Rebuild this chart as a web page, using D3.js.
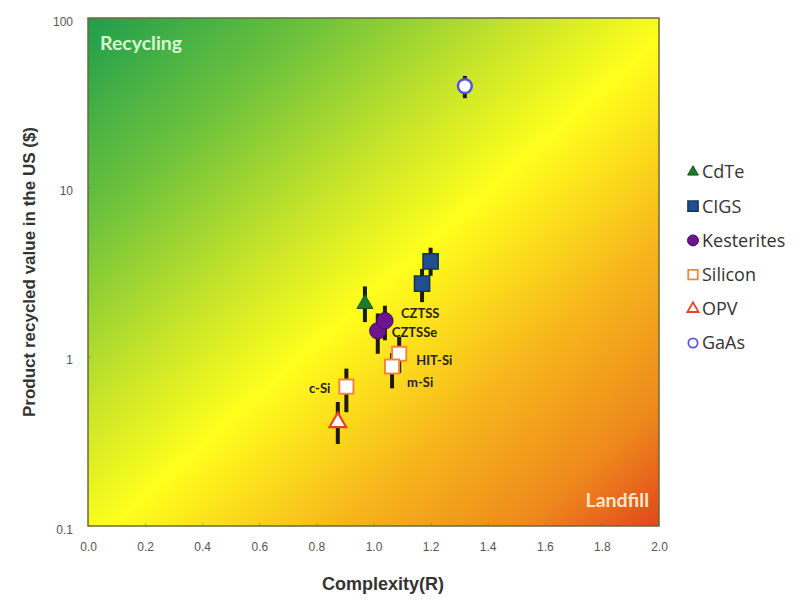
<!DOCTYPE html>
<html>
<head>
<meta charset="utf-8">
<script src="https://cdn.jsdelivr.net/npm/d3@7"></script>
<style>
  body { margin: 0; background: #fff; }
  svg { display: block; }
</style>
</head>
<body>
<svg width="808" height="606"></svg>
<script>
// Series shown in the legend
const seriesNames = ["CdTe", "CIGS", "Kesterites", "Silicon", "OPV", "GaAs"];

// One entry per plotted point
const pointSeries = ["CdTe", "CIGS", "CIGS", "Kesterites", "Kesterites", "Silicon", "Silicon", "Silicon", "OPV", "GaAs"];
const pointX      = [0.97, 1.17, 1.20, 1.015, 1.04, 1.09, 1.065, 0.905, 0.875, 1.32];
const pointY      = [2.05, 2.7, 3.65, 1.42, 1.63, 1.04, 0.875, 0.665, 0.41, 39.6];
const pointLow    = [1.6, 2.1, 3.0, 1.04, 1.25, 0.8, 0.65, 0.47, 0.305, 33.6];
const pointHigh   = [2.6, 3.3, 4.4, 1.8, 2.0, 1.31, 1.05, 0.85, 0.54, 45.5];
const pointLabel  = ["", "", "", "CZTSSe", "CZTSS", "HIT-Si", "m-Si", "c-Si", "", ""];

const xTicks = [0, 0.2, 0.4, 0.6, 0.8, 1.0, 1.2, 1.4, 1.6, 1.8, 2.0];
const yTicks = [0.1, 1, 10, 100];

// marker look per series
const markerStyle = {
    "CdTe":       { shape: d3.symbolTriangle, size: 110, fill: "#1d7a2c", stroke: "#14561f", sw: 1 },
    "CIGS":       { shape: d3.symbolSquare,   size: 230, fill: "#1f4f8f", stroke: "#123461", sw: 1.5 },
    "Kesterites": { shape: d3.symbolCircle,   size: 210, fill: "#6b168f", stroke: "#4a0a66", sw: 1 },
    "Silicon":    { shape: d3.symbolSquare,   size: 200, fill: "#ffffff", stroke: "#f0883c", sw: 2 },
    "OPV":        { shape: d3.symbolTriangle, size: 120, fill: "#ffffff", stroke: "#e8412c", sw: 2.2 },
    "GaAs":       { shape: d3.symbolCircle,   size: 150, fill: "#ffffff", stroke: "#5656dc", sw: 2.5 }
};

// label offsets in px from the point
const labelOffset = {
    "CZTSS":  { dx: 16, dy: -3, anchor: "start" },
    "CZTSSe": { dx: 14, dy: 6, anchor: "start" },
    "HIT-Si": { dx: 17, dy: 11, anchor: "start" },
    "m-Si":   { dx: 15, dy: 21, anchor: "start" },
    "c-Si":   { dx: -16, dy: 6, anchor: "end" }
};

const svg = d3.select("svg");

const plotLeft = 88, plotRight = 659, plotTop = 18, plotBottom = 526;

const x = d3.scaleLinear().domain([0, 2]).range([plotLeft, plotRight]);
const y = d3.scaleLog().domain([0.1, 100]).range([plotBottom, plotTop]);

// Background gradient: green (recycling) -> yellow -> red (landfill)
const defs = svg.append("defs");
const grad = defs.append("linearGradient")
    .attr("id", "bg")
    .attr("x1", 0).attr("y1", 0)
    .attr("x2", 1).attr("y2", 1);
[
    [0, "#1f9e4d"],
    [0.2, "#6cc23d"],
    [0.38, "#c6e42a"],
    [0.52, "#ffff1c"],
    [0.72, "#f7b61c"],
    [0.88, "#ee8a1c"],
    [1, "#e2461d"]
].forEach(s => grad.append("stop").attr("offset", s[0]).attr("stop-color", s[1]));

svg.append("rect")
    .attr("x", plotLeft).attr("y", plotTop)
    .attr("width", plotRight - plotLeft).attr("height", plotBottom - plotTop)
    .attr("fill", "url(#bg)")
    .attr("stroke", "#6b6a3c")
    .attr("stroke-width", 1.5);

// Corner captions
svg.append("text")
    .attr("x", plotLeft + 12).attr("y", plotTop + 32)
    .attr("font-family", "Lato, sans-serif")
    .attr("font-weight", "bold")
    .attr("font-size", 19.5)
    .attr("fill", "#d6f7cf")
    .text("Recycling");

svg.append("text")
    .attr("x", plotRight - 10).attr("y", plotBottom - 19)
    .attr("text-anchor", "end")
    .attr("font-family", "Lato, sans-serif")
    .attr("font-weight", "bold")
    .attr("font-size", 19.5)
    .attr("fill", "#fde6cc")
    .text("Landfill");

// Axes
const xAxis = svg.append("g")
    .attr("transform", "translate(0," + plotBottom + ")")
    .call(d3.axisBottom(x).tickValues(xTicks).tickFormat(d3.format(".1f")).tickSize(-3).tickPadding(16));
xAxis.select(".domain").remove();
xAxis.selectAll("line").attr("stroke", "#7a7440").attr("stroke-opacity", 0.5);
xAxis.selectAll("text")
    .attr("font-family", "Liberation Sans, Arial, sans-serif")
    .attr("font-size", 12)
    .attr("fill", "#555");

const yAxis = svg.append("g")
    .attr("transform", "translate(" + plotLeft + ",0)")
    .call(d3.axisLeft(y).tickValues(yTicks).tickFormat(d => d).tickSize(-3).tickPadding(15));
yAxis.select(".domain").remove();
yAxis.selectAll("line").attr("stroke", "#7a7440").attr("stroke-opacity", 0.5);
yAxis.selectAll("text")
    .attr("dy", "0.6em")
    .attr("font-family", "Liberation Sans, Arial, sans-serif")
    .attr("font-size", 12)
    .attr("fill", "#555");

// Axis titles
svg.append("text")
    .attr("x", 383).attr("y", 590)
    .attr("text-anchor", "middle")
    .attr("font-family", "Liberation Sans, Arial, sans-serif")
    .attr("font-weight", "bold")
    .attr("font-size", 18)
    .attr("fill", "#333")
    .text("Complexity(R)");

svg.append("text")
    .attr("transform", "translate(35," + 272 + ") rotate(-90)")
    .attr("text-anchor", "middle")
    .attr("font-family", "Liberation Sans, Arial, sans-serif")
    .attr("font-weight", "bold")
    .attr("font-size", 17)
    .attr("fill", "#333")
    .text("Product recycled value in the US ($)");

// Points
const points = pointX.map((v, i) => ({
    series: pointSeries[i], x: v, y: pointY[i],
    lo: pointLow[i], hi: pointHigh[i], label: pointLabel[i]
}));

svg.append("g").selectAll("line")
    .data(points)
    .enter().append("line")
    .attr("x1", d => x(d.x)).attr("x2", d => x(d.x))
    .attr("y1", d => y(d.lo)).attr("y2", d => y(d.hi))
    .attr("stroke", "#1b1b12")
    .attr("stroke-width", 4);

svg.append("g").selectAll("path")
    .data(points)
    .enter().append("path")
    .attr("transform", d => "translate(" + x(d.x) + "," + y(d.y) + ")")
    .attr("d", d => d3.symbol().type(markerStyle[d.series].shape).size(markerStyle[d.series].size)())
    .attr("fill", d => markerStyle[d.series].fill)
    .attr("stroke", d => markerStyle[d.series].stroke)
    .attr("stroke-width", d => markerStyle[d.series].sw);

svg.append("g").selectAll("text")
    .data(points.filter(d => d.label))
    .enter().append("text")
    .attr("x", d => x(d.x) + labelOffset[d.label].dx)
    .attr("y", d => y(d.y) + labelOffset[d.label].dy)
    .attr("text-anchor", d => labelOffset[d.label].anchor)
    .attr("font-family", "Lato, sans-serif")
    .attr("font-weight", "bold")
    .attr("font-size", 13)
    .attr("fill", "#2a2410")
    .text(d => d.label);

// Legend
const legend = svg.selectAll(".legend")
    .data(seriesNames)
    .enter().append("g")
    .attr("class", "legend")
    .attr("transform", (d, i) => "translate(693," + (172 + i * 34.2) + ")");

legend.append("path")
    .attr("d", d => d3.symbol().type(markerStyle[d].shape).size(markerStyle[d].size * 0.45)())
    .attr("fill", d => markerStyle[d].fill)
    .attr("stroke", d => markerStyle[d].stroke)
    .attr("stroke-width", d => Math.min(markerStyle[d].sw, 1.8));

legend.append("text")
    .attr("x", 9)
    .attr("y", 0)
    .attr("dy", "0.35em")
    .attr("font-family", "Open Sans, sans-serif")
    .attr("font-size", 18)
    .attr("fill", "#333")
    .text(d => d);
</script>
</body>
</html>
